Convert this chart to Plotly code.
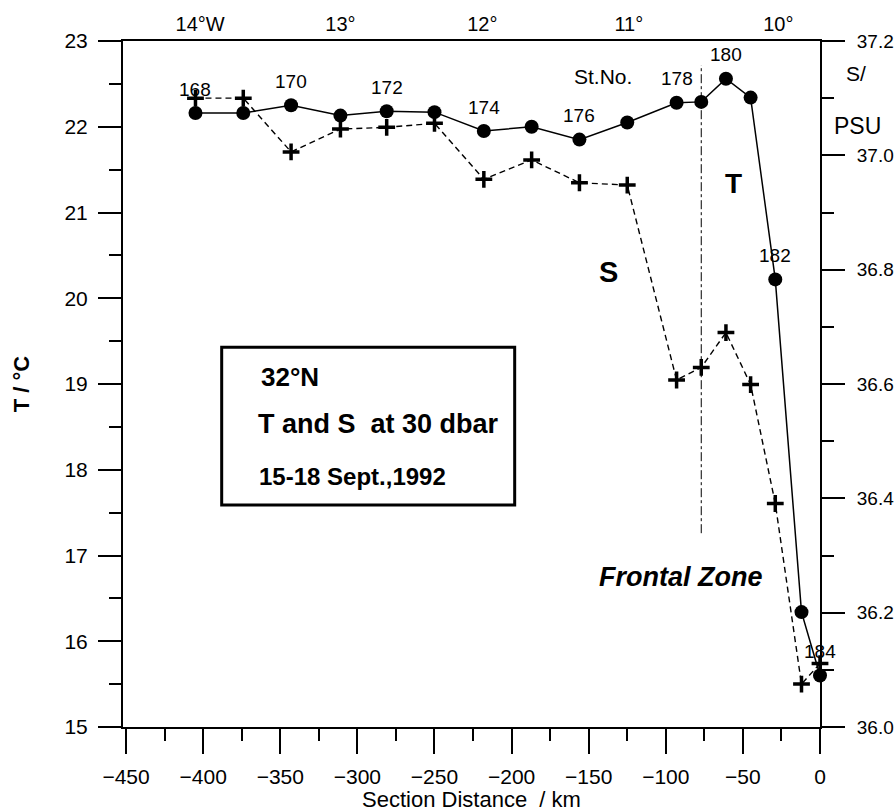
import plotly.graph_objects as go

# ---- data ----
distance_km = [-405, -374, -343, -311, -281, -250, -218, -187, -156, -125, -93, -77, -61, -45, -29, -12, 0]
stations = list(range(168, 185))
temperature_c = [22.16, 22.16, 22.25, 22.13, 22.18, 22.17, 21.95, 22.00, 21.85, 22.05,
                 22.28, 22.29, 22.56, 22.34, 20.22, 16.34, 15.60]
salinity_psu = [37.10, 37.10, 37.006, 37.046, 37.049, 37.056, 36.958, 36.992, 36.952, 36.948,
                36.607, 36.629, 36.690, 36.599, 36.391, 36.075, 36.111]
labelled_stations = [168, 170, 172, 174, 176, 178, 180, 182, 184]

bottom_ticks = [-450, -400, -350, -300, -250, -200, -150, -100, -50, 0]
top_tick_km = [-402, -311, -219, -124, -27]
top_tick_labels = ["14°W", "13°", "12°", "11°", "10°"]

front_line_km = -77
front_line_T = [17.26, 22.72]

FONT = "Liberation Sans, Arial, sans-serif"
BLACK = "#000000"

fig = go.Figure()

# temperature: solid line with filled circles
fig.add_trace(go.Scatter(
    x=distance_km, y=temperature_c, mode="lines+markers", cliponaxis=False,
    line=dict(color=BLACK, width=1.5),
    marker=dict(symbol="circle", size=14, color=BLACK),
    showlegend=False, hoverinfo="skip"))

# salinity: dashed line with crosses on the right axis
fig.add_trace(go.Scatter(
    x=distance_km, y=salinity_psu, mode="lines+markers", yaxis="y2", cliponaxis=False,
    line=dict(color=BLACK, width=1.4, dash="6px,4px"),
    marker=dict(symbol="cross-thin", size=12, line=dict(color=BLACK, width=3.5)),
    showlegend=False, hoverinfo="skip"))

# dummy trace to create the top longitude axis
fig.add_trace(go.Scatter(
    x=top_tick_km, y=[None] * len(top_tick_km), xaxis="x2", mode="markers",
    showlegend=False, hoverinfo="skip"))

# frontal zone dash-dot line
fig.add_trace(go.Scatter(
    x=[front_line_km, front_line_km], y=front_line_T, mode="lines",
    line=dict(color=BLACK, width=1, dash="dashdot"),
    showlegend=False, hoverinfo="skip"))

annotations = []
for st, xk, t in zip(stations, distance_km, temperature_c):
    if st in labelled_stations:
        annotations.append(dict(x=xk, y=t, xref="x", yref="y", text=str(st),
                                showarrow=False, yshift=24,
                                font=dict(family=FONT, size=19, color=BLACK)))

annotations += [
    dict(x=-140.5, y=22.59, xref="x", yref="y", text="St.No.", showarrow=False,
         font=dict(family=FONT, size=21, color=BLACK)),
    dict(x=-56, y=21.34, xref="x", yref="y", text="<b>T</b>", showarrow=False,
         font=dict(family=FONT, size=28, color=BLACK)),
    dict(x=-137, y=20.31, xref="x", yref="y", text="<b>S</b>", showarrow=False,
         font=dict(family=FONT, size=29, color=BLACK)),
    dict(x=-90, y=16.75, xref="x", yref="y", text="<b><i>Frontal Zone</i></b>", showarrow=False,
         font=dict(family=FONT, size=27, color=BLACK)),
    dict(x=-364, y=19.08, xref="x", yref="y", text="<b>32°N</b>", showarrow=False,
         xanchor="left", font=dict(family=FONT, size=26, color=BLACK)),
    dict(x=-366, y=18.53, xref="x", yref="y", text="<b>T and S\u00a0\u00a0at 30 dbar</b>",
         showarrow=False, xanchor="left", font=dict(family=FONT, size=27, color=BLACK)),
    dict(x=-365, y=17.92, xref="x", yref="y", text="<b>15-18 Sept.,1992</b>",
         showarrow=False, xanchor="left", font=dict(family=FONT, size=24, color=BLACK)),
    dict(x=1.0516, y=0.952, xref="paper", yref="paper", text="S/", showarrow=False,
         xanchor="center", yanchor="middle",
         font=dict(family=FONT, size=21, color=BLACK)),
    dict(x=1.0545, y=0.876, xref="paper", yref="paper", text="PSU", showarrow=False,
         xanchor="center", yanchor="middle",
         font=dict(family=FONT, size=23, color=BLACK)),
]

shapes = [
    dict(type="rect", xref="x", yref="y", x0=-388, x1=-198, y0=17.59, y1=19.43,
         line=dict(color=BLACK, width=3), fillcolor="rgba(0,0,0,0)"),
]

tickfont = dict(family=FONT, size=21, color=BLACK)

fig.update_layout(
    width=895, height=812,
    margin=dict(l=123, r=75, t=41, b=85),
    paper_bgcolor="white", plot_bgcolor="white",
    font=dict(family=FONT, color=BLACK),
    annotations=annotations, shapes=shapes,
    xaxis=dict(
        range=[-452, 0], tickvals=bottom_ticks, ticks="outside", ticklen=25, tickwidth=2,
        tickcolor=BLACK, showline=True, linecolor=BLACK, linewidth=2, showgrid=False,
        zeroline=False, tickfont=tickfont, ticklabelstandoff=5, automargin=False,
        minor=dict(dtick=25, tick0=0, ticks="outside", ticklen=12, tickwidth=2, tickcolor=BLACK,
                   showgrid=False),
        title=dict(text="Section Distance\u00a0\u00a0/ km", font=dict(family=FONT, size=22, color=BLACK),
                   standoff=6),
    ),
    xaxis2=dict(
        overlaying="x", side="top", range=[-452, 0], tickvals=top_tick_km,
        ticktext=top_tick_labels, ticks="",
        showline=True, linecolor=BLACK, linewidth=2, showgrid=False, zeroline=False,
        tickfont=dict(family=FONT, size=20, color=BLACK), automargin=False,
    ),
    yaxis=dict(
        range=[15, 23], dtick=1, tick0=15, ticks="outside", ticklen=23, tickwidth=2,
        tickcolor=BLACK, showline=True, linecolor=BLACK, linewidth=2, showgrid=False,
        zeroline=False, tickfont=tickfont, ticklabelstandoff=6, automargin=False,
        minor=dict(dtick=0.5, ticks="outside", ticklen=12, tickwidth=2, tickcolor=BLACK,
                   showgrid=False),
        title=dict(text="<b>T / °C</b>", font=dict(family=FONT, size=22, color=BLACK), standoff=29),
    ),
    yaxis2=dict(
        overlaying="y", side="right", range=[36.0, 37.2], dtick=0.2, tick0=36.0,
        tickformat=".1f", ticks="outside", ticklen=23, tickwidth=2, tickcolor=BLACK,
        showline=True, linecolor=BLACK, linewidth=2, showgrid=False, zeroline=False,
        tickfont=dict(family=FONT, size=19, color=BLACK), ticklabelstandoff=8, automargin=False,
        minor=dict(dtick=0.1, ticks="outside", ticklen=12, tickwidth=2, tickcolor=BLACK,
                   showgrid=False),
    ),
)

fig.write_html("out.html")
